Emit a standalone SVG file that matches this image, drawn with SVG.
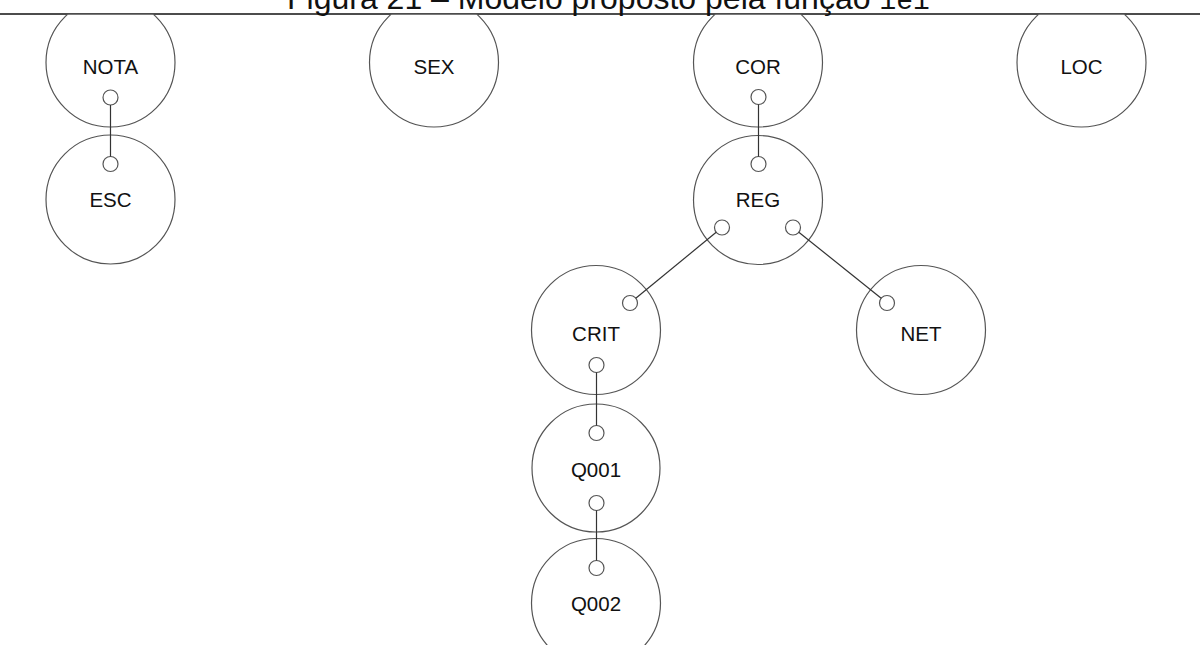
<svg xmlns="http://www.w3.org/2000/svg" width="1200" height="645" viewBox="0 0 1200 645">
  <style>
    .node { fill: #ffffff; stroke: #555555; stroke-width: 1.2; }
    .port { fill: #ffffff; stroke: #555555; stroke-width: 1.2; }
    .label { font-family: "Liberation Sans", Arial, sans-serif; font-size: 20.5px; fill: #111111; text-anchor: middle; }
    .edge { stroke: #333333; stroke-width: 1.2; fill: none; }
    .title { font-family: "Liberation Sans", Arial, sans-serif; font-size: 32px; fill: #111111; }
    .mono { font-family: "Liberation Mono", "Courier New", monospace; font-size: 28px; }
  </style>
  <defs>
    <!-- the figure body is cut at the caption rule -->
    <clipPath id="body">
      <rect x="0" y="14.75" width="1200" height="630.25"/>
    </clipPath>
  </defs>
  <rect x="0" y="0" width="1200" height="645" fill="#ffffff"/>

  <!-- caption and rule -->
  <g id="caption">
    <text class="title" x="287" y="9">Figura 21 – Modelo proposto pela função <tspan class="mono">iei</tspan></text>
    <line x1="0" y1="14" x2="1200" y2="14" stroke="#111111" stroke-width="1.5"/>
  </g>

  <g clip-path="url(#body)">
    <!-- nodes -->
    <g id="node-nota">
      <circle class="node" cx="110.5" cy="62.5" r="64.5"/>
      <text class="label" x="110.5" y="73.5">NOTA</text>
      <circle class="port" cx="110.5" cy="97.5" r="7.5"/>
    </g>
    <g id="node-sex">
      <circle class="node" cx="434" cy="62.5" r="64.5"/>
      <text class="label" x="434" y="73.5">SEX</text>
    </g>
    <g id="node-cor">
      <circle class="node" cx="758" cy="62.5" r="64.5"/>
      <text class="label" x="758" y="73.5">COR</text>
      <circle class="port" cx="758.5" cy="97" r="7.5"/>
    </g>
    <g id="node-loc">
      <circle class="node" cx="1081.5" cy="62.5" r="64.5"/>
      <text class="label" x="1081.5" y="73.5">LOC</text>
    </g>
    <g id="node-esc">
      <circle class="node" cx="110.5" cy="199.5" r="64.5"/>
      <text class="label" x="110.5" y="207">ESC</text>
      <circle class="port" cx="110.5" cy="164" r="7.5"/>
    </g>
    <g id="node-reg">
      <circle class="node" cx="758" cy="200" r="64.5"/>
      <text class="label" x="758" y="207">REG</text>
      <circle class="port" cx="758.5" cy="164" r="7.5"/>
      <circle class="port" cx="722" cy="227.5" r="7.5"/>
      <circle class="port" cx="793" cy="227.5" r="7.5"/>
    </g>
    <g id="node-crit">
      <circle class="node" cx="596" cy="330" r="64.5"/>
      <text class="label" x="596" y="340.5">CRIT</text>
      <circle class="port" cx="630" cy="303" r="7.5"/>
      <circle class="port" cx="596.5" cy="365" r="7.5"/>
    </g>
    <g id="node-net">
      <circle class="node" cx="921" cy="330" r="64.5"/>
      <text class="label" x="921" y="340.5">NET</text>
      <circle class="port" cx="887" cy="303" r="7.5"/>
    </g>
    <g id="node-q001">
      <circle class="node" cx="596" cy="468" r="64"/>
      <text class="label" x="596" y="476.5">Q001</text>
      <circle class="port" cx="596.5" cy="433" r="7.5"/>
      <circle class="port" cx="596.5" cy="503" r="7.5"/>
    </g>
    <g id="node-q002">
      <circle class="node" cx="596" cy="603" r="64.5"/>
      <text class="label" x="596" y="610.5">Q002</text>
      <circle class="port" cx="596.5" cy="568" r="7.5"/>
    </g>

    <!-- connectors between ports -->
    <g id="connectors">
      <line class="edge" x1="110.5" y1="105" x2="110.5" y2="156.5"/>
      <line class="edge" x1="758.5" y1="104.5" x2="758.5" y2="156.5"/>
      <line class="edge" x1="716.2" y1="232.3" x2="635.8" y2="298.2"/>
      <line class="edge" x1="798.8" y1="232.2" x2="881.2" y2="298.3"/>
      <line class="edge" x1="596.5" y1="372.5" x2="596.5" y2="425.5"/>
      <line class="edge" x1="596.5" y1="510.5" x2="596.5" y2="560.5"/>
    </g>
  </g>
</svg>
